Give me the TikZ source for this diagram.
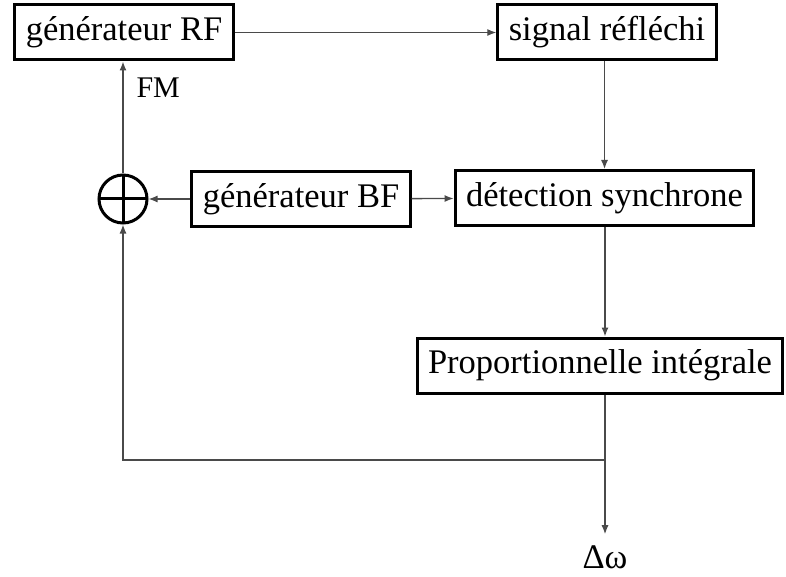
\documentclass[tikz,border=0pt]{standalone}
\usepackage{fontspec}
\setmainfont{Liberation Serif}
\usepackage{tikz}
\usetikzlibrary{arrows.meta,positioning}
\definecolor{wire}{HTML}{4A4A4A}

\tikzset{
  bloc/.style={draw=black,line width=3pt,inner xsep=11pt,minimum height=55pt,
    font=\fontsize{34.5}{40}\selectfont},
  link/.style={draw=wire,line width=1.3pt,-{Latex[length=9pt,width=7pt]}},
  somme/.style={circle,draw=black,line width=3pt,minimum size=48pt,inner sep=0pt,
    path picture={\draw[line width=3pt]
      (path picture bounding box.north) -- (path picture bounding box.south)
      (path picture bounding box.west) -- (path picture bounding box.east);}}
}

\begin{document}
\begin{tikzpicture}[x=1pt,y=-1pt]
      \useasboundingbox (0,0) rectangle (786,577);
      \path
      (124,32.5) node[bloc](rf) {générateur RF}
      (607,32.5) node[bloc](refl) {signal réfléchi}
      (123,199) node[somme](sum) {}
      (301,199) node[bloc](bf) {générateur BF}
      (604.5,198) node[bloc](det) {détection synchrone}
      (600,365.5) node[bloc](pi) {Proportionnelle intégrale}
      (605,460) coordinate(split)
      (605,557) node[inner sep=1pt,font=\fontsize{34.5}{40}\selectfont](dw) {Δω}
      (133,88) node[anchor=west,font=\fontsize{30}{34}\selectfont](fm) {FM}
      ;

      \draw[link] (rf) -- (refl);
      \draw[link] (refl.south -| det.north) -- (det.north);
      \draw[link] (bf) -- (sum);
      \draw[link] (bf) -- (det);
      \draw[link] (det.south -| split) -- (pi.north -| split);
      \draw[link,shorten >=10pt] (pi.south -| split) -- (dw.north);
      \draw[link] (split) -| (sum.south);
      \draw[link] (sum.north) -- (sum.north |- rf.south);
    \end{tikzpicture}
\end{document}
